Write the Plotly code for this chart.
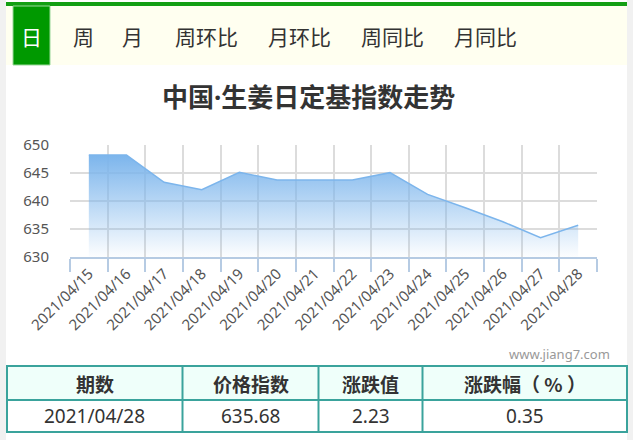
import plotly.graph_objects as go

# ---------------- data ----------------
dates = ["2021/04/15", "2021/04/16", "2021/04/17", "2021/04/18", "2021/04/19",
         "2021/04/20", "2021/04/21", "2021/04/22", "2021/04/23", "2021/04/24",
         "2021/04/25", "2021/04/26", "2021/04/27", "2021/04/28"]
index_values = [648.21, 648.21, 643.33, 642.02, 645.12, 643.75, 643.75,
                643.75, 645.06, 641.19, 638.80, 636.30, 633.45, 635.68]
y_ticks = [630, 635, 640, 645, 650]
tabs = ["日", "周", "月", "周环比", "月环比", "周同比", "月同比"]
title_text = "中国·生姜日定基指数走势"
watermark = "www.jiang7.com"
table_header = ["期数", "价格指数", "涨跌值", "涨跌幅（ % ）"]
table_row = ["2021/04/28", "635.68", "2.23", "0.35"]

# ---------------- geometry helpers ----------------
W, H = 633, 440
L, R, T, B = 70, 597, 145, 257


def px(x):
    return (x - L) / (R - L)


def py(y):
    return (B - y) / (B - T)


FONT = "Noto Sans, Microsoft YaHei, Noto Sans CJK SC, sans-serif"
CJK = "Microsoft YaHei, Noto Sans CJK SC, sans-serif"
BLUE = "#7cb5ec"

fig = go.Figure()
fig.add_trace(go.Scatter(
    x=dates, y=[y_ticks[0]] * len(dates), mode="lines",
    line=dict(width=0, color="rgba(0,0,0,0)"), hoverinfo="skip", showlegend=False))
fig.add_trace(go.Scatter(
    x=dates, y=index_values, mode="lines",
    line=dict(color=BLUE, width=1.5),
    fill="tonexty",
    fillgradient=dict(type="vertical",
                      colorscale=[[0, "rgba(124,181,236,0.02)"],
                                  [1, "rgba(124,181,236,1)"]],
                      start=y_ticks[0], stop=max(index_values)),
    showlegend=False))

shapes = []
annotations = []


def rect(x0, y0, x1, y1, fill, line_color=None, lw=0, layer="above"):
    shapes.append(dict(type="rect", xref="paper", yref="paper",
                       x0=px(x0), x1=px(x1), y0=py(y1), y1=py(y0),
                       fillcolor=fill, layer=layer,
                       line=dict(color=line_color or fill, width=lw)))


def line(x0, y0, x1, y1, color, lw):
    shapes.append(dict(type="line", xref="paper", yref="paper",
                       x0=px(x0), x1=px(x1), y0=py(y0), y1=py(y1),
                       line=dict(color=color, width=lw)))


def text(x, y, s, size, color="#333", bold=False, xanchor="center", family=FONT):
    annotations.append(dict(xref="paper", yref="paper", x=px(x), y=py(y),
                            text=f"<b>{s}</b>" if bold else s,
                            showarrow=False, xanchor=xanchor, yanchor="middle",
                            font=dict(size=size, color=color, family=family)))


# page panel
rect(6, 0, 627, 440, "#ffffff", layer="below")
# tab bar
rect(6, 6, 627, 65, "#fffff0")
rect(6, 2, 627, 6, "#139f13")
rect(13, 6, 50, 65, "#009900", line_color="#9ad89a", lw=1)
tab_x = [31, 83, 132, 206, 299, 392, 485]
for i, (t, x) in enumerate(zip(tabs, tab_x)):
    text(x, 36, t, 21, color="#ffffff" if i == 0 else "#333333", family=CJK)

# title
text(308, 97, title_text, 26, color="#333333", bold=True)
# watermark
text(612, 354, watermark, 13, color="#999999", xanchor="right")

# table
TEAL = "#3aa39c"
rect(7, 366, 627, 400, "#effffa")
rect(7, 400, 627, 432, "#ffffff")
col_edges = [7, 182.5, 318.5, 422.5, 627]
shapes.append(dict(type="rect", xref="paper", yref="paper",
                   x0=px(7), x1=px(627), y0=py(432), y1=py(366),
                   line=dict(color=TEAL, width=2), fillcolor="rgba(0,0,0,0)"))
line(7, 400, 627, 400, TEAL, 2)
for xe in col_edges[1:-1]:
    line(xe, 366, xe, 432, TEAL, 2)
for i in range(4):
    cx = (col_edges[i] + col_edges[i + 1]) / 2
    text(cx, 383, table_header[i], 19, color="#333333", bold=True, family=CJK)
    text(cx, 416, table_row[i], 19, color="#333333")

fig.update_layout(
    width=W, height=H, autosize=False,
    margin=dict(l=L, r=W - R, t=T, b=H - B, pad=0),
    paper_bgcolor="#f1f1f1", plot_bgcolor="#ffffff",
    shapes=shapes, annotations=annotations,
    font=dict(family=FONT),
    xaxis=dict(type="category", range=[-0.5, len(dates) - 0.5],
               tickson="boundaries", ticks="outside", ticklen=13,
               tickcolor="#b6cbe3", tickwidth=1.5,
               showgrid=True, gridcolor="#dcdcdc", gridwidth=1.5,
               showline=True, linecolor="#b6cbe3", linewidth=2,
               tickangle=-45, tickfont=dict(size=15, color="#555555", family=FONT),
               zeroline=False, fixedrange=True),
    yaxis=dict(range=[y_ticks[0], y_ticks[-1]], tickvals=y_ticks,
               showgrid=True, gridcolor="#dcdcdc", gridwidth=1.5,
               ticks="", ticklabelstandoff=20,
               tickfont=dict(size=15, color="#555555", family=FONT),
               zeroline=False, showline=False, fixedrange=True),
)

fig.write_html("out.html",
               config={"displayModeBar": False},
               post_script="document.body.style.margin='0';"
                           "document.body.style.padding='0';"
                           "document.body.style.overflow='hidden';")
